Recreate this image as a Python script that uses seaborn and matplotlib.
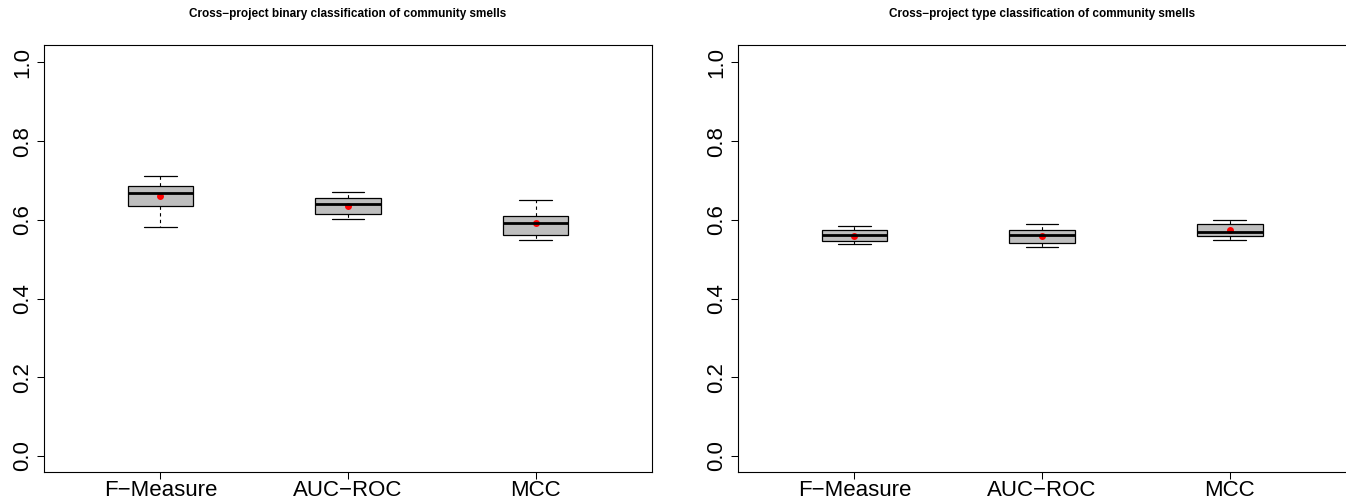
import pandas as pd
import numpy as np
import matplotlib
matplotlib.use("Agg")
import matplotlib.pyplot as plt
import seaborn as sns

# metrics on the x axis
metrics = ["F\u2212Measure", "AUC\u2212ROC", "MCC"]

# binary classification: whisker low, q1, median, q3, whisker high, mean
bin_low = [0.582, 0.601, 0.550]
bin_q1 = [0.635, 0.616, 0.561]
bin_med = [0.667, 0.640, 0.591]
bin_q3 = [0.685, 0.656, 0.611]
bin_high = [0.711, 0.671, 0.651]
bin_mean = [0.660, 0.636, 0.591]

# type classification
typ_low = [0.539, 0.530, 0.550]
typ_q1 = [0.547, 0.540, 0.560]
typ_med = [0.561, 0.561, 0.570]
typ_q3 = [0.574, 0.574, 0.590]
typ_high = [0.585, 0.590, 0.600]
typ_mean = [0.560, 0.560, 0.573]

titles = ["Cross\u2212project binary classification of community smells",
          "Cross\u2212project type classification of community smells"]
yticks = [0.0, 0.2, 0.4, 0.6, 0.8, 1.0]


def make_df(low, q1, med, q3, high):
    rows = []
    for i, m in enumerate(metrics):
        for v in (low[i], q1[i], med[i], q3[i], high[i]):
            rows.append({"metric": m, "value": v})
    return pd.DataFrame(rows)


sns.set_style("ticks")
plt.rcParams["font.family"] = ["Liberation Sans", "DejaVu Sans"]
plt.rcParams["text.color"] = "black"
plt.rcParams["xtick.color"] = "black"
plt.rcParams["ytick.color"] = "black"

fig = plt.figure(figsize=(13.46, 4.99), dpi=100)
W, H = 1346, 499
bottom = (H - 471.7) / H
height = (471.7 - 44.7) / H
axes = [fig.add_axes([44 / W, bottom, 608 / W, height]),
        fig.add_axes([738 / W, bottom, 610 / W, height])]

panels = [
    (make_df(bin_low, bin_q1, bin_med, bin_q3, bin_high), bin_mean),
    (make_df(typ_low, typ_q1, typ_med, typ_q3, typ_high), typ_mean),
]

for ax, (df, means), title in zip(axes, panels, titles):
    sns.boxplot(data=df, x="metric", y="value", ax=ax, order=metrics,
                color="#BEBEBE", saturation=1, width=0.35, whis=(0, 100),
                showfliers=False, linecolor="black", linewidth=0.9,
                medianprops={"linewidth": 2.0, "color": "black"},
                whiskerprops={"linestyle": (0, (3, 3)), "linewidth": 0.8},
                capprops={"linewidth": 0.9})
    mean_df = pd.DataFrame({"metric": metrics, "mean": means})
    sns.pointplot(data=mean_df, x="metric", y="mean", ax=ax, order=metrics,
                  color="red", linestyle="none", markers="o",
                  markersize=5, markeredgewidth=0, errorbar=None)
    ax.set_xlim(-0.62, 2.62 if ax is axes[0] else 2.63)
    ax.set_ylim(-0.04, 1.045)
    ax.set_yticks(yticks)
    ax.set_yticklabels([f"{t:.1f}" for t in yticks], rotation=90,
                       va="center", fontsize=16)
    ax.tick_params(axis="x", labelsize=16, pad=1)
    ax.tick_params(axis="y", pad=3)
    ax.tick_params(direction="out", length=5, width=0.75, color="black")
    ax.set_xlabel("")
    ax.set_ylabel("")
    for s in ax.spines.values():
        s.set_visible(True)
        s.set_linewidth(0.8)
        s.set_color("black")
    cx = (44 + 608 / 2) / W if ax is axes[0] else (738 + 608 / 2) / W
    fig.text(cx, 1 - 14 / H, title, ha="center", va="center",
             fontsize=8.5, fontweight="bold")

fig.savefig("out.png", dpi=100)
